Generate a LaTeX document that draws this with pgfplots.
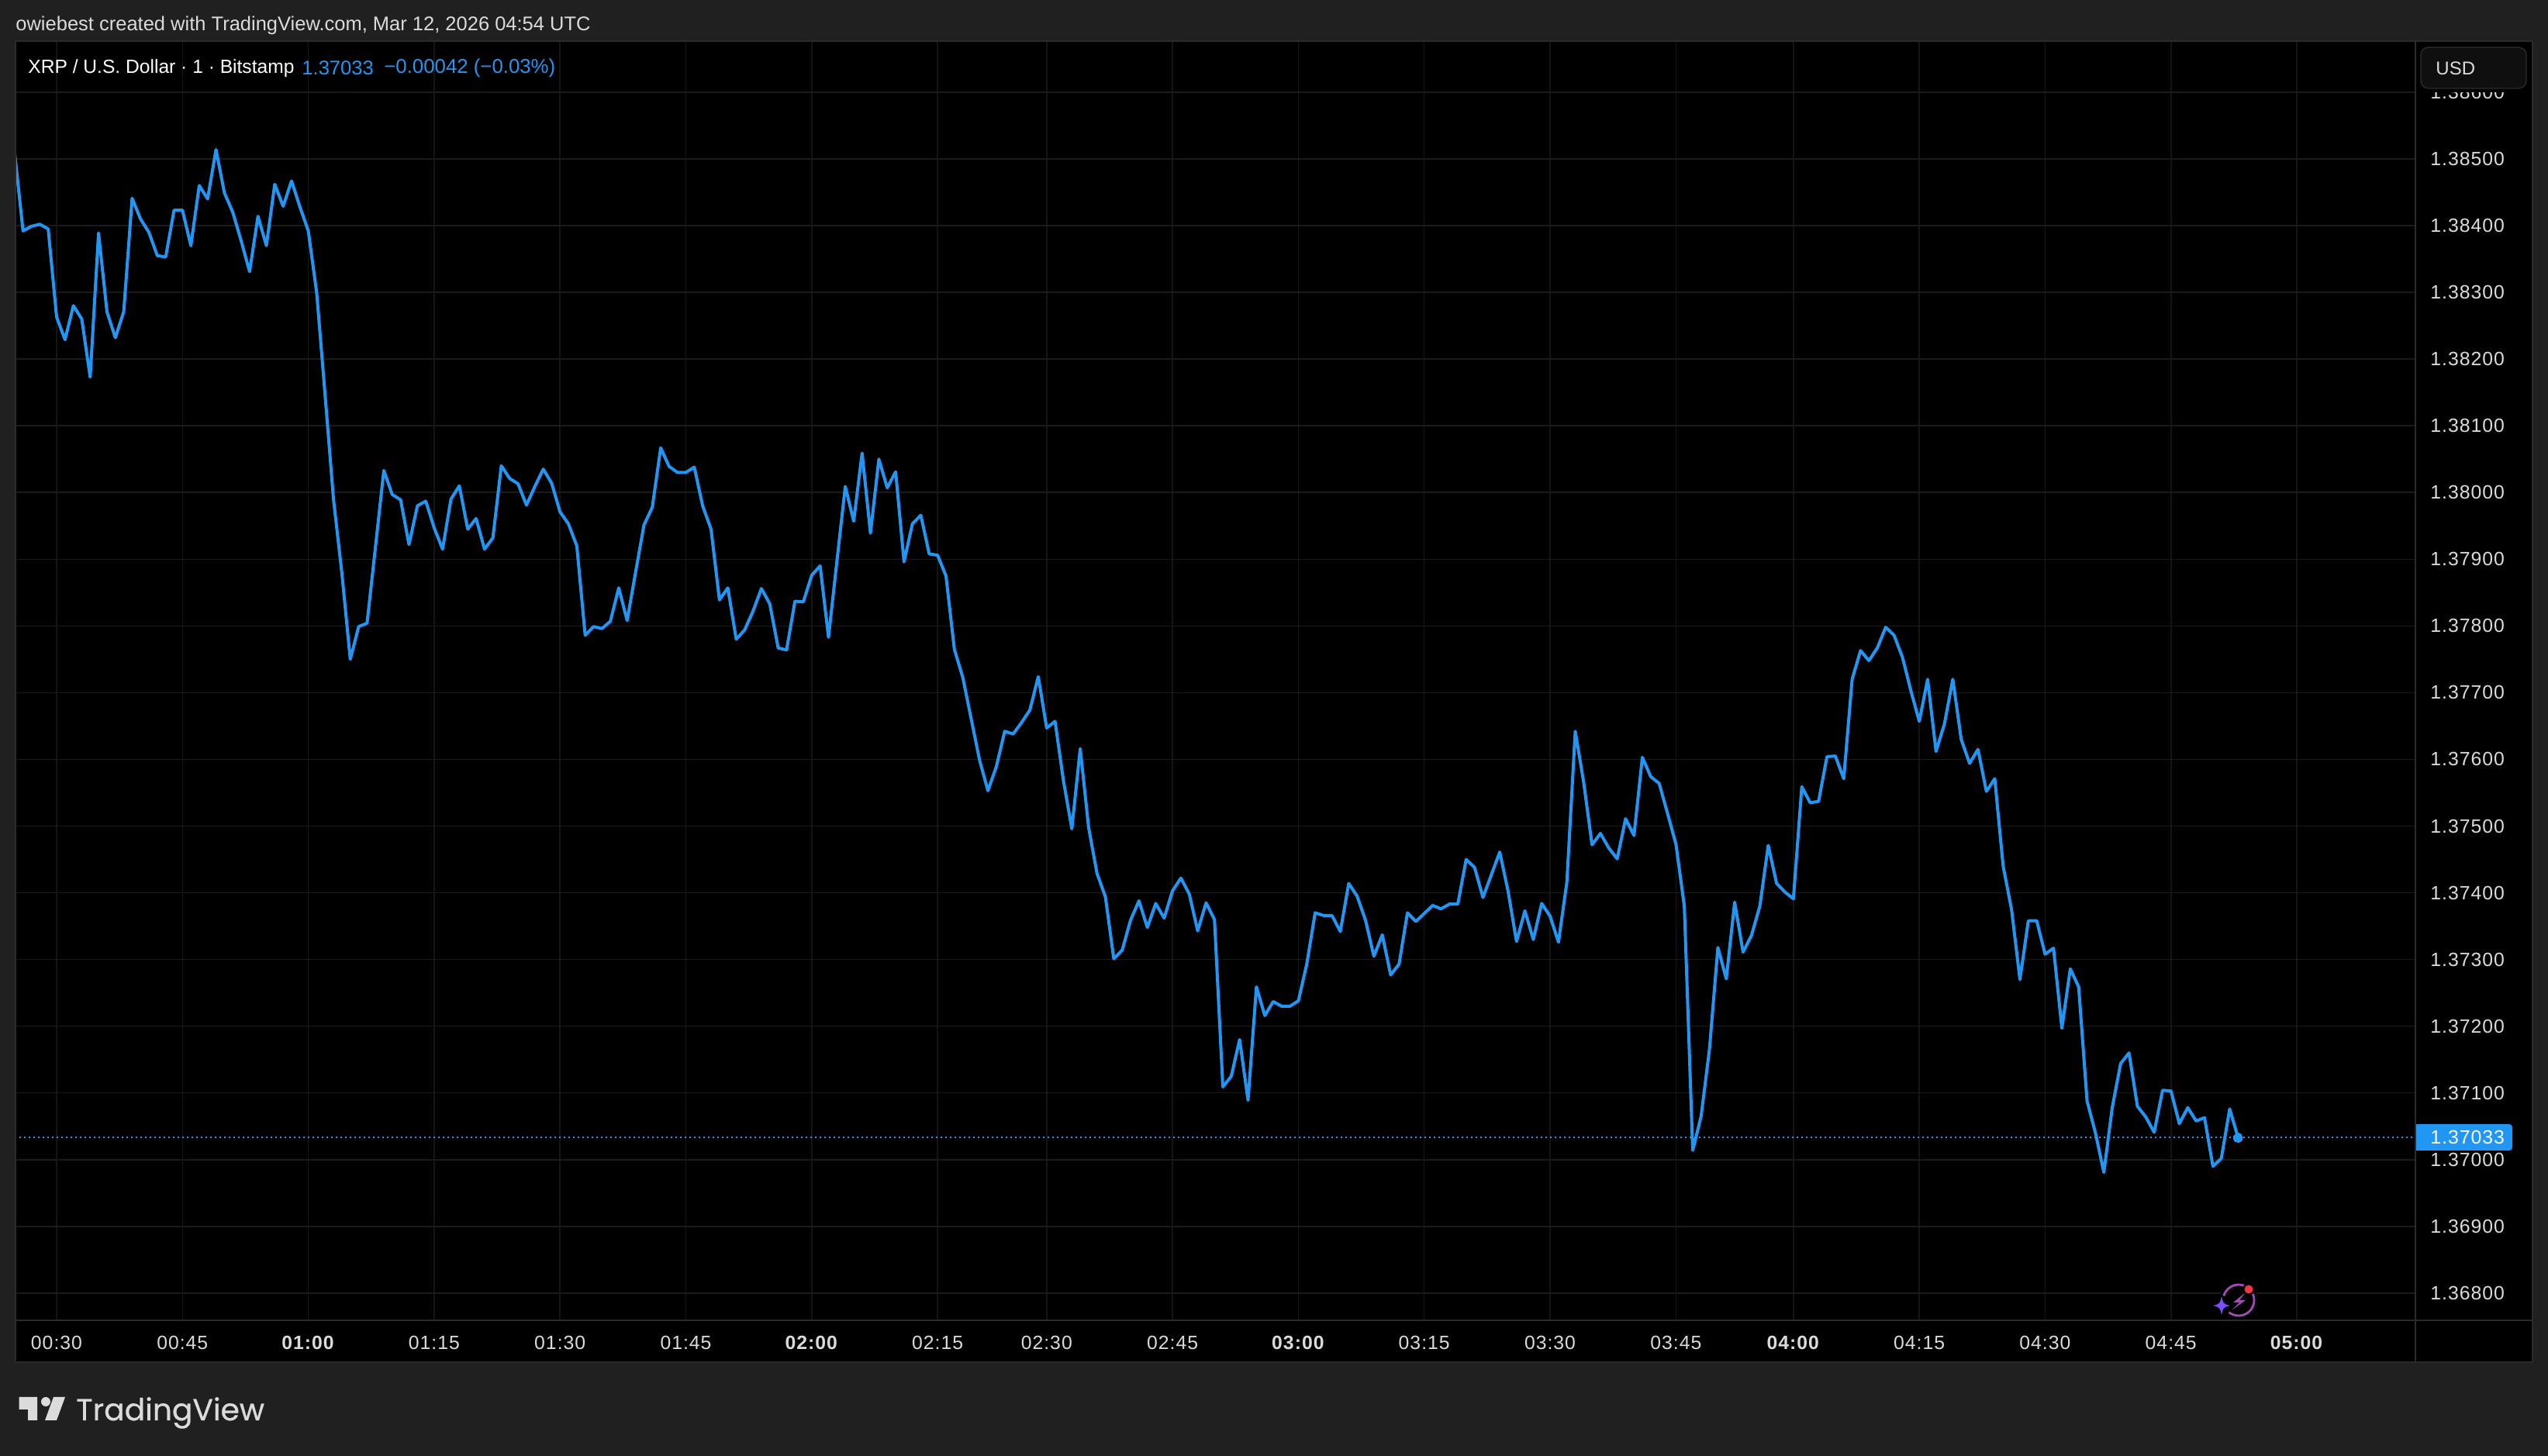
\documentclass[border=0pt]{standalone}
\usepackage{fontspec}
\usepackage{pgfplots}
\pgfplotsset{compat=1.18}
\setmainfont{Liberation Sans}
\newfontfamily\tickfont[LetterSpace=4]{Liberation Sans}
\newfontfamily\logofont[FakeBold=0.6]{Poppins}
\definecolor{pagebg}{HTML}{202020}
\definecolor{framec}{HTML}{2B2B2B}
\definecolor{gridx}{HTML}{151515}
\definecolor{gridy}{HTML}{1A1A1A}
\definecolor{tvblue}{HTML}{2196F3}
\definecolor{labelc}{HTML}{DBDBDB}
\begin{document}
\begin{tikzpicture}
\fill[pagebg] (0,0) rectangle (1643pt,939pt);
\begin{scope}[x=0.5pt,y=-0.5pt,yshift=939pt]
\fill[black] (20,53) rectangle (3266,1757);
\end{scope}
\begin{axis}[
  at={(10.25pt,87.5pt)}, anchor=south west,
  scale only axis, width=1547.25pt, height=825pt,
  xmin=0.148, xmax=286.14,
  ymin=1.367592, ymax=1.386766,
  axis line style={draw=none},
  major tick length=0pt,
  tick style={draw=none},
  xmajorgrids=true, ymajorgrids=true,
  major x grid style={gridx,line width=0.75pt},
  major y grid style={gridy,line width=0.75pt},
  xtick={5,20,35,50,65,80,95,110,123,138,153,168,183,198,212,227,242,257,272},
  xticklabels={00:30,00:45,\textbf{01:00},01:15,01:30,01:45,\textbf{02:00},02:15,02:30,02:45,\textbf{03:00},03:15,03:30,03:45,\textbf{04:00},04:15,04:30,04:45,\textbf{05:00}},
  ytick={1.368,1.369,1.37,1.371,1.372,1.373,1.374,1.375,1.376,1.377,1.378,1.379,1.38,1.381,1.382,1.383,1.384,1.385,1.386},
  yticklabel pos=right,
  scaled y ticks=false,
  yticklabel style={/pgf/number format/fixed,/pgf/number format/precision=5,/pgf/number format/fixed zerofill,/pgf/number format/assume math mode=true,anchor=west,xshift=9.5pt,inner xsep=0pt,text=labelc,font=\tickfont\fontsize{12.4}{14}\selectfont},
  xticklabel style={anchor=center,yshift=-14.35pt,inner ysep=0pt,text=labelc,font=\tickfont\fontsize{12.4}{14}\selectfont},
]
\addplot[tvblue,line width=0.9pt,dash pattern=on 1pt off 2pt,forget plot] coordinates {(0,1.37033)(287,1.37033)};
\addplot[tvblue,line width=2pt,line join=round,mark=none] coordinates {
(0,1.38509)(1,1.38392)(2,1.38399)(3,1.38402)(4,1.38395)(5,1.38263)(6,1.38229)(7,1.38280)(8,1.38260)(9,1.38173)
(10,1.38389)(11,1.38271)(12,1.38232)(13,1.38271)(14,1.38441)(15,1.38410)(16,1.38390)(17,1.38355)(18,1.38353)(19,1.38423)
(20,1.38423)(21,1.38370)(22,1.38460)(23,1.38440)(24,1.38514)(25,1.38449)(26,1.38420)(27,1.38377)(28,1.38331)(29,1.38414)
(30,1.38370)(31,1.38462)(32,1.38429)(33,1.38467)(34,1.38428)(35,1.38392)(36,1.38299)(37,1.38146)(38,1.37990)(39,1.37879)
(40,1.37750)(41,1.37799)(42,1.37804)(43,1.37918)(44,1.38033)(45,1.37997)(46,1.37989)(47,1.37922)(48,1.37980)(49,1.37987)
(50,1.37947)(51,1.37915)(52,1.37990)(53,1.38010)(54,1.37945)(55,1.37961)(56,1.37915)(57,1.37932)(58,1.38040)(59,1.38021)
(60,1.38013)(61,1.37981)(62,1.38009)(63,1.38035)(64,1.38014)(65,1.37971)(66,1.37953)(67,1.37920)(68,1.37786)(69,1.37799)
(70,1.37796)(71,1.37807)(72,1.37857)(73,1.37808)(74,1.37880)(75,1.37951)(76,1.37978)(77,1.38067)(78,1.38039)(79,1.38030)
(80,1.38030)(81,1.38038)(82,1.37980)(83,1.37945)(84,1.37839)(85,1.37857)(86,1.37780)(87,1.37794)(88,1.37822)(89,1.37856)
(90,1.37833)(91,1.37767)(92,1.37764)(93,1.37837)(94,1.37836)(95,1.37876)(96,1.37890)(97,1.37783)(98,1.37897)(99,1.38009)
(100,1.37957)(101,1.38059)(102,1.37939)(103,1.38050)(104,1.38007)(105,1.38031)(106,1.37896)(107,1.37953)(108,1.37966)(109,1.37908)
(110,1.37906)(111,1.37875)(112,1.37765)(113,1.37723)(114,1.37661)(115,1.37599)(116,1.37553)(117,1.37589)(118,1.37642)(119,1.37638)
(120,1.37655)(121,1.37674)(122,1.37724)(123,1.37647)(124,1.37657)(125,1.37568)(126,1.37496)(127,1.37616)(128,1.37498)(129,1.37429)
(130,1.37394)(131,1.37301)(132,1.37314)(133,1.37359)(134,1.37388)(135,1.37348)(136,1.37384)(137,1.37362)(138,1.37403)(139,1.37422)
(140,1.37398)(141,1.37343)(142,1.37385)(143,1.37360)(144,1.37109)(145,1.37125)(146,1.37180)(147,1.37089)(148,1.37259)(149,1.37216)
(150,1.37237)(151,1.37230)(152,1.37230)(153,1.37238)(154,1.37293)(155,1.37370)(156,1.37366)(157,1.37366)(158,1.37342)(159,1.37414)
(160,1.37395)(161,1.37359)(162,1.37305)(163,1.37337)(164,1.37277)(165,1.37293)(166,1.37370)(167,1.37357)(168,1.37369)(169,1.37381)
(170,1.37376)(171,1.37383)(172,1.37383)(173,1.37450)(174,1.37438)(175,1.37393)(176,1.37427)(177,1.37461)(178,1.37402)(179,1.37327)
(180,1.37373)(181,1.37330)(182,1.37384)(183,1.37365)(184,1.37326)(185,1.37416)(186,1.37642)(187,1.37566)(188,1.37472)(189,1.37489)
(190,1.37467)(191,1.37451)(192,1.37511)(193,1.37486)(194,1.37603)(195,1.37574)(196,1.37564)(197,1.37519)(198,1.37473)(199,1.37380)
(200,1.37014)(201,1.37065)(202,1.37166)(203,1.37318)(204,1.37271)(205,1.37386)(206,1.37311)(207,1.37336)(208,1.37380)(209,1.37471)
(210,1.37414)(211,1.37401)(212,1.37391)(213,1.37559)(214,1.37535)(215,1.37537)(216,1.37604)(217,1.37605)(218,1.37571)(219,1.37720)
(220,1.37763)(221,1.37748)(222,1.37767)(223,1.37798)(224,1.37786)(225,1.37753)(226,1.37703)(227,1.37657)(228,1.37720)(229,1.37612)
(230,1.37653)(231,1.37720)(232,1.37630)(233,1.37594)(234,1.37615)(235,1.37552)(236,1.37571)(237,1.37440)(238,1.37375)(239,1.37270)
(240,1.37358)(241,1.37358)(242,1.37308)(243,1.37317)(244,1.37197)(245,1.37286)(246,1.37259)(247,1.37088)(248,1.37040)(249,1.36981)
(250,1.37078)(251,1.37144)(252,1.37160)(253,1.37080)(254,1.37064)(255,1.37041)(256,1.37104)(257,1.37103)(258,1.37054)(259,1.37078)
(260,1.37058)(261,1.37063)(262,1.36990)(263,1.37002)(264,1.37076)(265,1.37033)};
\addplot[only marks,mark=*,mark size=2.9pt,mark options={fill=tvblue,draw=tvblue,line width=0pt}] coordinates {(265,1.37033)};
\end{axis}
\begin{scope}[x=0.5pt,y=-0.5pt,yshift=939pt]
% price scale is cut off just under the currency button
\fill[black] (3116,54) rectangle (3265,119);
% frames
\draw[framec,line width=1pt] (20,53) rectangle (3266,1757);
\draw[framec,line width=1pt] (3115,53) -- (3115,1757);
\draw[framec,line width=1pt] (20,1703) -- (3266,1703);
% header text
\node[anchor=west,inner sep=0pt,text=labelc,font=\fontsize{12.75}{15}\selectfont] at (20,33) {owiebest created with TradingView.com, Mar 12, 2026 04:54 UTC};
\node[anchor=west,inner sep=0pt,text=white,font=\fontsize{12.3}{15}\selectfont] at (36,88) {XRP / U.S. Dollar · 1 · Bitstamp};
\node[anchor=west,inner sep=0pt,text=tvblue,font=\fontsize{12.8}{15}\selectfont] at (389,88) {1.37033};
\node[anchor=west,inner sep=0pt,text=tvblue,font=\fontsize{12.9}{15}\selectfont] at (495,88) {−0.00042 (−0.03\%)};
% currency box
\draw[draw=framec,line width=0.7pt,rounded corners=5pt,fill={rgb,255:red,15;green,15;blue,15}] (3122,61) rectangle (3258,114);
\node[anchor=west,inner sep=0pt,text=labelc,font=\fontsize{12}{14}\selectfont] at (3141,88) {USD};
% last-price tag
\fill[tvblue,rounded corners=2pt] (3116,1450) rectangle (3240,1484);
\fill[tvblue] (3116,1450) rectangle (3130,1484);
\node[anchor=west,inner sep=0pt,text=white,font=\tickfont\fontsize{12.4}{14}\selectfont] at (3134,1467) {1.37033};
% icon
\fill[black!100!white,opacity=0.9] (2887,1677) circle (25);
\draw[color={rgb,255:red,171;green,71;blue,188},line width=1.4pt] (2887,1677) circle (20);
\fill[color={rgb,255:red,171;green,71;blue,188}] (2896,1667) -- (2880,1680) -- (2888,1680) -- (2878,1690) -- (2896,1677) -- (2888,1677) -- cycle;
\fill[black] (2865,1684) circle (13);
\fill[color={rgb,255:red,124;green,77;blue,255}] (2865,1672) .. controls (2867,1681) and (2867,1682) .. (2876,1684) .. controls (2867,1686) and (2867,1687) .. (2865,1696) .. controls (2863,1687) and (2863,1686) .. (2854,1684) .. controls (2863,1682) and (2863,1681) .. (2865,1672) -- cycle;
\fill[black] (2900,1663) circle (8);
\fill[color={rgb,255:red,242;green,54;blue,69}] (2900,1663) circle (5.5);
% logo
\fill[labelc] (24.5,1802) -- (48,1802) -- (48,1832) -- (36,1832) -- (36,1818) -- (24.5,1818) -- cycle;
\fill[labelc] (59,1808) circle (6);
\fill[labelc] (69,1802) -- (84,1802) -- (73,1832) -- (58,1832) -- cycle;
\node[anchor=base west,inner sep=0pt,text=labelc,font=\logofont\fontsize{19.6}{22}\selectfont] at (98,1832) {TradingView};
\end{scope}
\end{tikzpicture}
\end{document}
